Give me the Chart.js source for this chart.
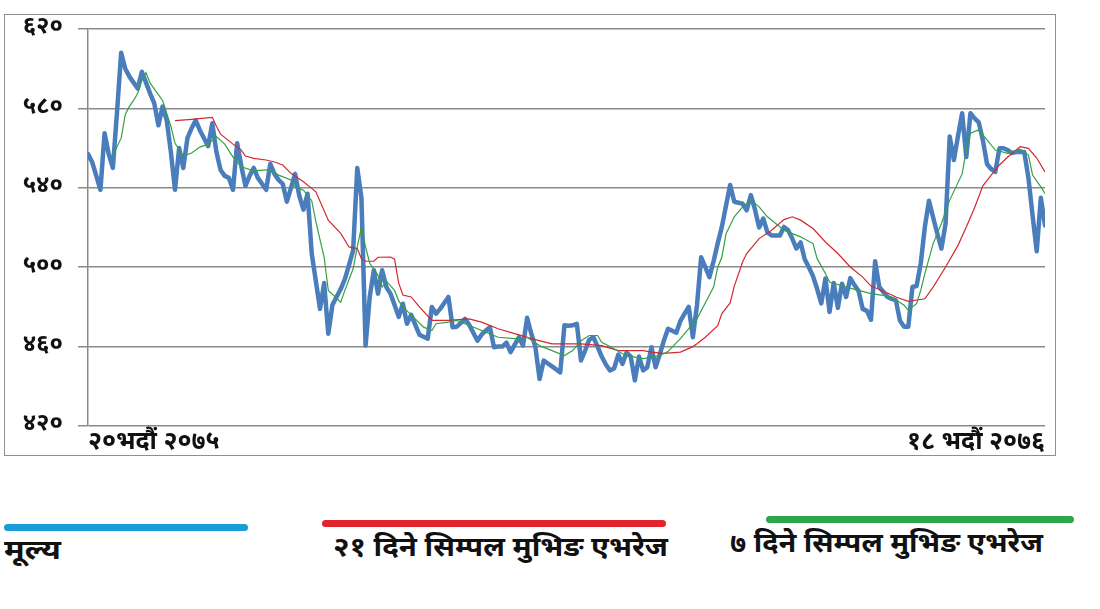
<!DOCTYPE html>
<html>
<head>
<meta charset="utf-8">
<script src="https://cdn.jsdelivr.net/npm/chart.js@4.4.0/dist/chart.umd.min.js"></script>
<style>
html,body{margin:0;padding:0;background:#fff;width:1100px;height:609px;overflow:hidden}
#box{position:absolute;left:4px;top:14px;width:1052px;height:442px;border:1px solid #8f8f8f;box-sizing:border-box}
#box canvas{display:block}
.leg-line{position:absolute;height:7px;border-radius:4px}
.leg-text{position:absolute;white-space:nowrap;font-weight:bold;line-height:34px;height:34px;color:#111;transform-origin:0 50%;
  font-family:'Noto Sans Devanagari','Lohit Devanagari','Mukta','Mangal','FreeSans','Noto Sans',sans-serif;font-size:27px}
</style>
</head>
<body>
<div id="box"><canvas id="c" width="1050" height="440"></canvas></div>
<div id="legend"></div>
<script>
// ---- data ----
const seriesLabels = ['मूल्य', '२१ दिने सिम्पल मुभिङ एभरेज', '७ दिने सिम्पल मुभिङ एभरेज'];
const xTickLabels = ['२०भदौं २०७५', '१८ भदौं २०७६'];
const yTickValues = [420, 460, 500, 540, 580, 620];
const yTickLabels = ['४२०', '४६०', '५००', '५४०', '५८०', '६२०'];

// daily price (trading days 0..231)
const priceValues = [
557,553,546,539,567.5,557,550,578,608,600,
596,593,590,598.5,593,587.5,582.5,571.5,581,574,
558,539,560,550,565,570,574,569,565,561,
572.5,558,549,546,545,539,562.5,551,541,546,
550,545,542,539,552,547,544,542,533,540,
547,536,529,537,507,493,479,492,466.5,481,
485,489,494,501,508.5,550,535,460.5,485,498.5,
486.7,498.5,490,486.7,481,475,481.6,471.5,476,471,
466,465,464,480,476.6,479,482,485,469.8,470,
472,474,471,467,463,466,468,469.8,459.7,460,
460,462,457.2,461,464.7,460.5,474.5,466.5,459.7,443.7,
453,451.5,450,448.5,447,470.7,470.5,470.7,471.5,453,
458,463.5,464.7,460,455,451,448,449,456,451.3,
457,455,443,455,448,449.6,459.7,449.6,456,463,
469,468,467,473,476.6,480,464.7,481,505,500,
495,503,512,520.3,531,541.4,533,532.5,532,528.7,
536.3,529,520,524.5,517.5,516,516,516,520.3,518.6,
514.4,509.4,512.5,504,500,495.5,489,481.8,494.3,477.5,
492,479.5,491.7,485,494.5,491,488,479,478,473.5,
503,490,487.5,485,484,483.3,473,470,470,490,
490.5,501.8,520.3,533.5,525,517,509.4,522,565.8,554,
566,577.6,555.5,577.6,575,573,564,552,549.5,548,
559.9,559.9,559,557.5,558,558,558,545,526,508,
535,521
];

// 21-day simple moving average (read at sampled days)
const ma21Days = [21,25,30,31,32,35,37,38,40,43,45,47,49,52,54,55,58,61,63,65,66,67,69,70,73,74,75,76,78,80,83,87,92,95,99,103,107,112,119,124,128,134,136,139,143,146,147,149,152,153,155,156,158,159,162,165,168,170,172,175,178,181,184,187,189,193,195,198,202,204,207,210,212,214,216,218,220,222,225,227,229,231];
const ma21Values = [573.8,574.5,575.5,571,567,562,559,556,554.8,554,553,551.5,547.3,543,539.7,538,523.7,517,510.2,509.4,504.3,503,503,505,505.1,504,492,486,485,480,473.2,473.2,474,472.3,469,466.5,464,461.4,461.4,460.5,458,458,457.2,456.6,457.2,460,461.4,464.7,470.5,476.6,482,490.5,502.6,506.9,514.4,518.6,524,525.4,523.7,519.5,512.7,506.9,500.1,495,490.5,487,485,482.8,484.1,490,500.1,511,520.3,530,541,546.4,551.5,555.5,560.7,559.9,555,548];

// 7-day simple moving average (read at sampled days)
const ma7Days = [6,7,8,9,10,11,12,13,14,15,18,20,21,23,25,27,29,31,33,35,37,40,43,44,46,49,50,51,52,54,55,57,58,61,62,64,65,66,67,68,70,71,72,74,75,76,78,81,83,84,87,89,91,94,96,99,103,106,109,112,115,117,119,121,123,124,127,129,132,134,136,138,140,141,143,145,147,149,151,152,153,154,156,158,160,162,164,166,168,170,172,175,176,178,179,183,186,189,192,194,197,198,200,201,202,204,206,208,211,212,213,215,217,219,222,225,227,228,230,231];
const ma7Values = [556.5,560.7,565,577,581,584,587.6,594,598,592.7,584,571,562.4,556,557.5,560.5,562,565.8,562,555.5,550.6,548.5,549,549,546.4,543.9,540.5,539.7,538.8,533.5,523,505,488.3,482.4,488.3,499.2,510.2,520.3,510.2,502,496,490,493,488.3,483,480,476,469.8,468.1,471.5,472.3,473.2,471.5,469,467.3,464.7,464,464.7,460.5,458,455.5,458,463,465.6,465.6,462.2,458.9,456.4,454.7,453.9,454.7,455.5,457.5,459.7,464,469,474,482,490,500,505,516.9,525.4,530.4,533.8,530.4,525.4,522,518.6,516.9,515.3,511.9,504.3,496.8,492.5,490,488.3,486.7,485.8,485,480.8,478.3,481.6,488.3,496.8,511.9,522,533.8,547,559,567.5,569.2,564.1,559,557.4,559.5,556.5,546.4,540.5,537];

// ---- chart ----
const FONT = "'Noto Sans Devanagari','Lohit Devanagari','Mukta','Mangal','FreeSans','Noto Sans',sans-serif";
const lastDay = priceValues.length - 1;
const pts = (days, vals) => days.map((d, i) => ({x: d, y: vals[i]}));

const chart = new Chart(document.getElementById('c'), {
  type: 'line',
  data: {
    datasets: [
      {label: seriesLabels[0], data: priceValues.map((v, i) => ({x: i, y: v})), borderColor: '#4a7dbc', borderWidth: 4.5,
       pointRadius: 0, tension: 0, order: 3, borderJoinStyle: 'round', borderCapStyle: 'round'},
      {label: seriesLabels[1], data: pts(ma21Days, ma21Values), borderColor: '#d3282f', borderWidth: 1.2,
       pointRadius: 0, tension: 0, order: 2},
      {label: seriesLabels[2], data: pts(ma7Days, ma7Values), borderColor: '#33a046', borderWidth: 1.2,
       pointRadius: 0, tension: 0, order: 1}
    ]
  },
  options: {
    responsive: false,
    animation: false,
    layout: {padding: {left: 0, right: 10, top: 14, bottom: 0}},
    plugins: {legend: {display: false}, tooltip: {enabled: false}},
    scales: {
      x: {
        type: 'linear', min: 0, max: lastDay,
        grid: {display: false, drawTicks: false},
        border: {display: false},
        afterBuildTicks: s => { s.ticks = [{value: 0}, {value: lastDay}]; },
        afterFit: s => { s.height = 29; },
        ticks: {align: 'inner', maxRotation: 0, autoSkip: false, padding: 3, color: '#111',
                font: {family: FONT, size: 25, weight: 'bold'},
                callback: v => (v === 0 ? xTickLabels[0] : xTickLabels[1])}
      },
      y: {
        min: 420, max: 620,
        afterBuildTicks: s => { s.ticks = yTickValues.map(v => ({value: v})); },
        afterFit: s => { s.width = 83; s.paddingTop = 0; s.paddingBottom = 0; },
        grid: {color: '#8a8a8a', lineWidth: 1.5, tickLength: 10, drawTicks: true},
        border: {display: true, color: '#8a8a8a', width: 1.5},
        ticks: {padding: 15, color: '#111', font: {family: FONT, size: 24, weight: 'bold'},
                callback: v => yTickLabels[yTickValues.indexOf(v)]}
      }
    }
  }
});

// ---- legend (HTML, built from the chart's datasets) ----
const legendStyle = [
  {lineL: 4, lineR: 248, lineY: 527, textL: 4, textR: 61, textY: 553, color: '#1b9bd8'},
  {lineL: 322, lineR: 666, lineY: 523, textL: 333, textR: 668, textY: 550, color: '#e2242c'},
  {lineL: 766, lineR: 1074, lineY: 519, textL: 730, textR: 1043, textY: 546, color: '#2ba64a'}
];
const legendEl = document.getElementById('legend');
chart.data.datasets.forEach((d, i) => {
  const st = legendStyle[i];
  const line = document.createElement('div');
  line.className = 'leg-line';
  line.style.left = st.lineL + 'px';
  line.style.width = (st.lineR - st.lineL) + 'px';
  line.style.top = (st.lineY - 3.5) + 'px';
  line.style.background = st.color;
  legendEl.appendChild(line);
  const t = document.createElement('div');
  t.className = 'leg-text';
  t.textContent = d.label;
  t.style.left = st.textL + 'px';
  t.style.top = (st.textY - 17) + 'px';
  legendEl.appendChild(t);
  const w = t.getBoundingClientRect().width;
  if (w > 0) t.style.transform = 'scaleX(' + ((st.textR - st.textL) / w) + ')';
});
</script>
</body>
</html>
